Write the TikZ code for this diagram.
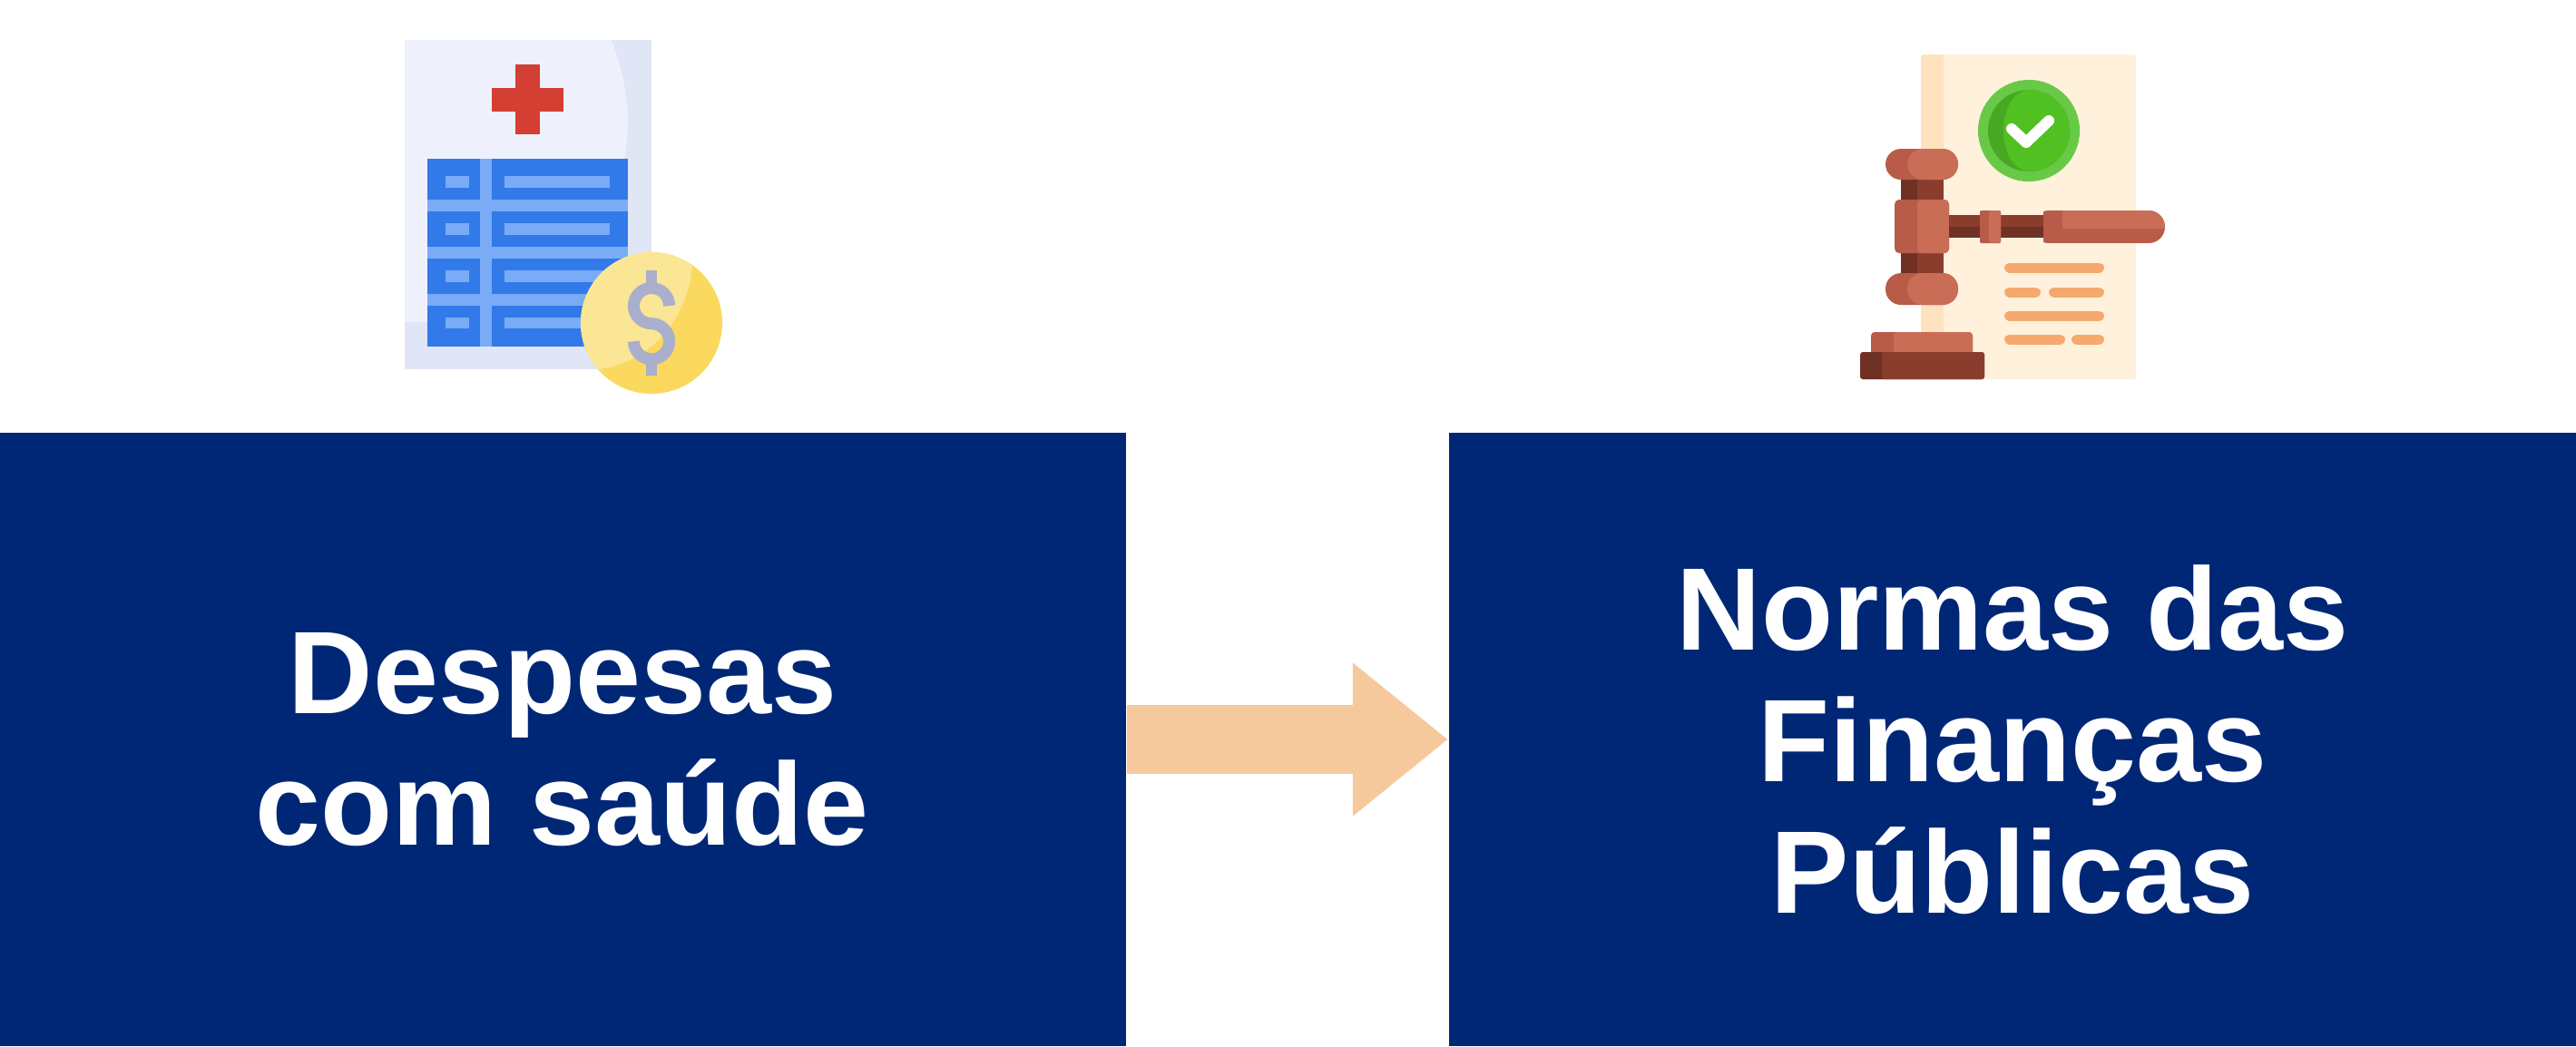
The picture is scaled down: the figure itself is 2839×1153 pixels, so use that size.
\documentclass[tikz,border=0pt]{standalone}
\usepackage{fontspec}
\setmainfont{Liberation Sans}
\usetikzlibrary{arrows.meta}
\definecolor{navybox}{HTML}{002776}
\definecolor{arrowfill}{HTML}{F5C99C}
\definecolor{pagelight}{HTML}{EEF1FB}
\definecolor{pagedark}{HTML}{E0E6F5}
\definecolor{crossred}{HTML}{D33F33}
\definecolor{cellblue}{HTML}{327AE9}
\definecolor{gridblue}{HTML}{7AABF7}
\definecolor{coindark}{HTML}{FAD95E}
\definecolor{coinlight}{HTML}{FBE695}
\definecolor{dollargrey}{HTML}{A9AFCD}
\definecolor{paperlight}{HTML}{FFF1DC}
\definecolor{paperdark}{HTML}{FFE3C1}
\definecolor{ringgreen}{HTML}{68C947}
\definecolor{checkdark}{HTML}{49A822}
\definecolor{checkgreen}{HTML}{50C022}
\definecolor{woodlight}{HTML}{C96D57}
\definecolor{wooddark}{HTML}{B85B49}
\definecolor{brownlight}{HTML}{8A3D2D}
\definecolor{browndark}{HTML}{703125}
\definecolor{textline}{HTML}{F6A96C}
\tikzset{
  titlebox/.style={fill=navybox,text=white,inner sep=0pt,minimum width=12.42cm,minimum height=6.76cm,align=center,font=\fontsize{36.8}{41.3}\selectfont\bfseries},
  flowarrow/.style={draw=arrowfill,line width=0.76cm,-{Triangle[length=1.05cm,width=1.62cm]}},
  paperline/.style={draw=textline,line width=0.11cm,line cap=round}
}
\begin{document}
\begin{tikzpicture}[x=0.01cm,y=-0.01cm]
\useasboundingbox (0,0) rectangle (2839,1153);
\node [titlebox] (despesas) at (620,815) {Despesas\\com saúde};
\node [titlebox] (normas) at (2218,815) {Normas das\\Finanças\\Públicas};
\draw [flowarrow] (despesas.east) -- (normas.west);
\fill [pagedark] (446,44) rectangle (718,407);
\fill [pagelight] (446,44) -- (674,44) .. controls (687,80) and (692,110) .. (692,133) .. controls (692,260) and (590,355) .. (470,355) -- (446,355) -- cycle;
\fill [crossred] (568,71) rectangle (595,148);
\fill [crossred] (542,97) rectangle (621,123);
\fill [gridblue] (471,175) rectangle (692,382);
\foreach \ya/\yb/\yc/\yd in {175/220/194/207,233/272/246/259,285/324/298/311,337/382/350/362}{
  \fill [cellblue] (471,\ya) rectangle (529,\yb);
  \fill [cellblue] (542,\ya) rectangle (692,\yb);
  \fill [gridblue] (491,\yc) rectangle (517,\yd);
  \fill [gridblue] (556,\yc) rectangle (672,\yd);
}
\fill [coindark] (718,356) circle [radius=0.78cm];
\begin{scope}
\clip (718,356) circle [radius=0.78cm];
\fill [coinlight] (763,293) .. controls (758,350) and (718,400) .. (660,407) -- (620,407) -- (620,260) -- (763,260) -- cycle;
\end{scope}
\fill [dollargrey] (712,298) rectangle (724,312);
\fill [dollargrey] (712,400) rectangle (724,414);
\draw [dollargrey,line width=0.13cm] (737.6,337) .. controls (737.6,326.2) and (728.8,317.4) .. (718,317.4) .. controls (707.2,317.4) and (698.4,326.2) .. (698.4,337) .. controls (698.4,347.8) and (707.2,356.6) .. (718,356.6) .. controls (728.8,356.6) and (737.6,365.4) .. (737.6,376.2) .. controls (737.6,387) and (728.8,395.8) .. (718,395.8) .. controls (707.2,395.8) and (698.4,387) .. (698.4,376.2);
\fill [paperlight,rounded corners=0.03cm] (2117,60) rectangle (2354,418);
\fill [paperdark,rounded corners=0.03cm] (2117,60) rectangle (2142,380);
\fill [ringgreen] (2236,144) circle [radius=0.56cm];
\fill [checkdark] (2236,144) circle [radius=0.45cm];
\begin{scope}
\clip (2236,144) circle [radius=0.45cm];
\fill [checkgreen] (2238,99) .. controls (2198,99) and (2198,189) .. (2238,189) -- (2290,189) -- (2290,99) -- cycle;
\end{scope}
\draw [white,line width=0.12cm,line cap=round,line join=round] (2217,142) -- (2233,157) -- (2258,133);
\foreach \xa/\xb/\yy in {2214.5/2313.5/295,2214.5/2243.5/322,2263.5/2313.5/322,2214.5/2313.5/348,2214.5/2270.5/374,2288.5/2313.5/374}{
  \draw [paperline] (\xa,\yy) -- (\xb,\yy);
}
\fill [browndark] (2095,198) rectangle (2113,222);
\fill [brownlight] (2113,198) rectangle (2142,222);
\fill [browndark] (2095,279) rectangle (2113,301);
\fill [brownlight] (2113,279) rectangle (2142,301);
\fill [wooddark,rounded corners=0.17cm] (2078,164) rectangle (2158,198);
\fill [woodlight,rounded corners=0.17cm] (2102,164) rectangle (2158,198);
\fill [wooddark,rounded corners=0.17cm] (2078,301) rectangle (2158,336);
\fill [woodlight,rounded corners=0.17cm] (2102,301) rectangle (2158,336);
\fill [wooddark,rounded corners=0.05cm] (2088,220) rectangle (2148,279);
\fill [woodlight,rounded corners=0.05cm] (2113,220) rectangle (2148,279);
\fill [brownlight] (2148,237) rectangle (2254,250);
\fill [browndark] (2148,250) rectangle (2254,262);
\fill [wooddark,rounded corners=0.02cm] (2182,232) rectangle (2205,268);
\fill [woodlight,rounded corners=0.02cm] (2192,232) rectangle (2205,268);
\begin{scope}
\clip [rounded corners=0.18cm] (2240,232) rectangle (2386,268);
\fill [wooddark] (2252,232) rectangle (2386,268);
\fill [woodlight,rounded corners=0.02cm] (2273,228) rectangle (2390,252);
\end{scope}
\fill [wooddark,rounded corners=0.04cm] (2062,366) rectangle (2174,392);
\fill [woodlight,rounded corners=0.04cm] (2087,366) rectangle (2174,392);
\fill [browndark,rounded corners=0.03cm] (2050,388) rectangle (2187,418);
\fill [brownlight,rounded corners=0.03cm] (2074,388) rectangle (2187,418);
\end{tikzpicture}
\end{document}
